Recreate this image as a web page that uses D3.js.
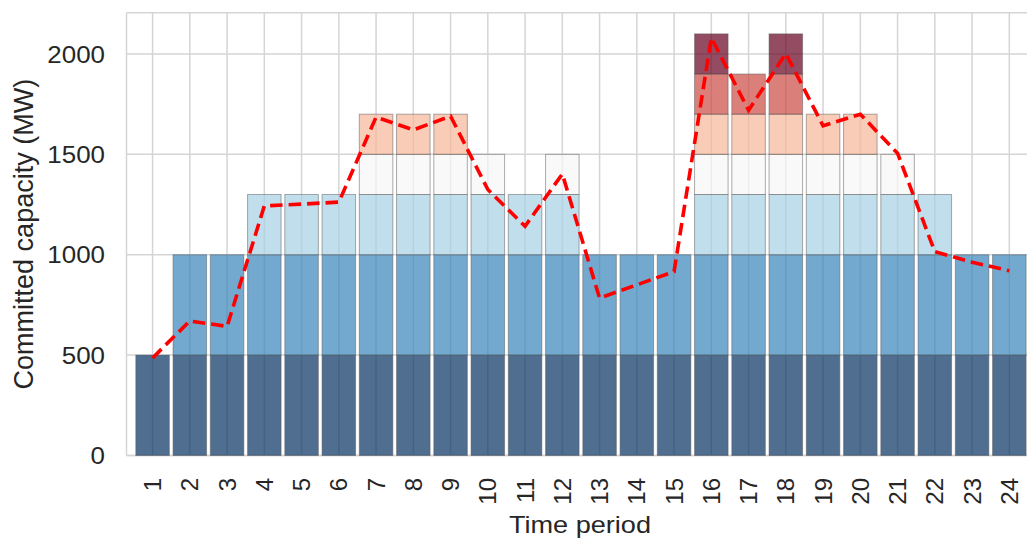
<!DOCTYPE html>
<html>
<head>
<meta charset="utf-8">
<script src="https://cdn.jsdelivr.net/npm/d3@7"></script>
<style>
  html, body { margin: 0; padding: 0; background: #fff; }
  svg { display: block; }
  text { font-family: "Liberation Sans", Arial, sans-serif; fill: #262626; }
</style>
</head>
<body>
<svg id="chart" width="1027" height="539"></svg>
<script>
// Time periods of the schedule
const periods = [1, 2, 3, 4, 5, 6, 7, 8, 9, 10, 11, 12, 13, 14, 15, 16, 17, 18, 19, 20, 21, 22, 23, 24];
// Capacity of each generating unit, in merit order (MW)
const unitCapacity = [500, 500, 300, 200, 200, 200, 200];
// Number of units committed in each period (taken in merit order)
const unitsCommitted = [1, 2, 2, 3, 3, 3, 5, 5, 5, 4, 3, 4, 2, 2, 2, 7, 6, 7, 5, 5, 4, 3, 2, 2];
// Demand in each period (MW)
const demand = [486, 670, 643, 1243, 1252, 1262, 1685, 1622, 1690, 1325, 1142, 1402, 784, 850, 916, 2080, 1720, 2002, 1642, 1700, 1505, 1015, 963, 920];
// Y axis ticks
const yTicks = [0, 500, 1000, 1500, 2000];

// One colour per unit, sampled from the reversed RdBu map
const unitColors = ["#053061", "#3884bb", "#a7d0e4", "#f7f7f7", "#f7b799", "#ca4842", "#67001f"];

const svg = d3.select("#chart");
const margin = { left: 126.5, top: 12.8, bottom: 455.5 };
const barWidth = 0.9;

// Category positions 0..23 with the bar plot's edge padding on each side
const x = d3.scaleLinear()
  .domain([-barWidth / 2 - 0.25, periods.length - 1 + barWidth / 2 + 0.25])
  .range([margin.left, margin.left + 24.4 * 37.25]);
const y = d3.scaleLinear().domain([0, 2205]).range([margin.bottom, margin.top]);

const x0 = x.range()[0], x1 = x.range()[1];

// Table of committed capacity per unit and period, stacked bottom-up
const table = periods.map((p, i) => {
  const row = { period: p, idx: i };
  unitCapacity.forEach((c, u) => { row["u" + u] = u < unitsCommitted[i] ? c : 0; });
  return row;
});
const keys = unitCapacity.map((c, u) => "u" + u);
const series = d3.stack().keys(keys)(table);

// Grid
const gridColor = "#d5d5d5";
const grid = svg.append("g");
grid.selectAll("line.h").data(yTicks).join("line")
  .attr("x1", x0).attr("x2", x1)
  .attr("y1", d => y(d)).attr("y2", d => y(d))
  .attr("stroke", gridColor).attr("stroke-width", 1.5);
grid.selectAll("line.v").data(periods).join("line")
  .attr("x1", (d, i) => x(i)).attr("x2", (d, i) => x(i))
  .attr("y1", y.range()[0]).attr("y2", y.range()[1])
  .attr("stroke", gridColor).attr("stroke-width", 1.5);

// Spines
svg.append("line").attr("x1", x0).attr("x2", x0).attr("y1", y.range()[0]).attr("y2", y.range()[1])
  .attr("stroke", gridColor).attr("stroke-width", 1.5);
svg.append("line").attr("x1", x0).attr("x2", x1).attr("y1", y.range()[1]).attr("y2", y.range()[1])
  .attr("stroke", gridColor).attr("stroke-width", 1.5);
svg.append("line").attr("x1", x0).attr("x2", x1).attr("y1", y.range()[0]).attr("y2", y.range()[0])
  .attr("stroke", gridColor).attr("stroke-width", 1.5);

// Stacked bars
const bw = x(barWidth) - x(0);
svg.append("g").selectAll("g").data(series).join("g")
  .attr("fill", (d, k) => unitColors[k])
  .selectAll("rect").data(d => d.filter(s => s[1] > s[0])).join("rect")
  .attr("x", d => x(d.data.idx) - bw / 2)
  .attr("width", bw)
  .attr("y", d => y(d[1]))
  .attr("height", d => y(d[0]) - y(d[1]))
  .attr("fill-opacity", 0.7)
  .attr("stroke", "#5a5a5a")
  .attr("stroke-opacity", 0.5)
  .attr("stroke-width", 1);

// Demand line
const line = d3.line().x((d, i) => x(i)).y(d => y(d));
svg.append("path").datum(demand)
  .attr("d", line)
  .attr("fill", "none")
  .attr("stroke", "#ff0000")
  .attr("stroke-width", 3.6)
  .attr("stroke-dasharray", "12.5,6");

// Y axis labels
svg.append("g").selectAll("text").data(yTicks).join("text")
  .attr("transform", d => `translate(105,${y(d)}) scale(1.08,1)`)
  .attr("text-anchor", "end").attr("dominant-baseline", "central")
  .attr("font-size", 24)
  .text(d => d);

// X axis labels (rotated)
svg.append("g").selectAll("text").data(periods).join("text")
  .attr("transform", (d, i) => `translate(${x(i)},478) rotate(-90)`)
  .attr("text-anchor", "end").attr("dominant-baseline", "central")
  .attr("font-size", 24)
  .text(d => d);

// Axis titles
svg.append("text")
  .attr("transform", `translate(${(x0 + x1) / 2 - 1},533) scale(1.13,1)`)
  .attr("text-anchor", "middle")
  .attr("font-size", 24)
  .text("Time period");
svg.append("text")
  .attr("transform", `translate(33,${(y.range()[0] + y.range()[1]) / 2}) rotate(-90)`)
  .attr("text-anchor", "middle")
  .attr("font-size", 27)
  .text("Committed capacity (MW)");
</script>
</body>
</html>
